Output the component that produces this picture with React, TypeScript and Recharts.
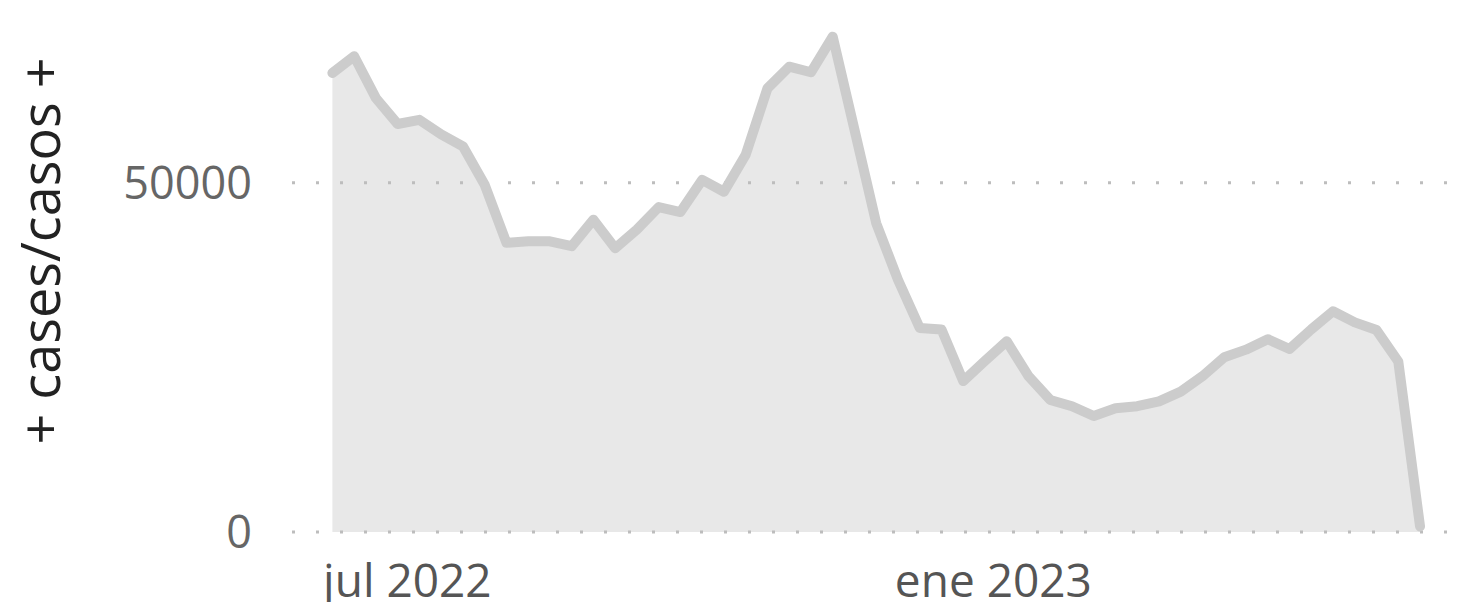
import { AreaChart, Area, XAxis, YAxis, CartesianGrid } from 'recharts';

// weekly reports, Monday of each week
const weeks = [
  '2022-07-04', '2022-07-11', '2022-07-18', '2022-07-25', '2022-08-01', '2022-08-08',
  '2022-08-15', '2022-08-22', '2022-08-29', '2022-09-05', '2022-09-12', '2022-09-19',
  '2022-09-26', '2022-10-03', '2022-10-10', '2022-10-17', '2022-10-24', '2022-10-31',
  '2022-11-07', '2022-11-14', '2022-11-21', '2022-11-28', '2022-12-05', '2022-12-12',
  '2022-12-19', '2022-12-26', '2023-01-02', '2023-01-09', '2023-01-16', '2023-01-23',
  '2023-01-30', '2023-02-06', '2023-02-13', '2023-02-20', '2023-02-27', '2023-03-06',
  '2023-03-13', '2023-03-20', '2023-03-27', '2023-04-03', '2023-04-10', '2023-04-17',
  '2023-04-24', '2023-05-01', '2023-05-08', '2023-05-15', '2023-05-22', '2023-05-29',
  '2023-06-05', '2023-06-12', '2023-06-19',
];

const cases = [
  65700, 68100, 62100, 58400, 59000, 56900, 55200, 49700, 41400, 41600,
  41600, 40900, 44700, 40600, 43300, 46500, 45800, 50400, 48700, 54000,
  63500, 66600, 65800, 70900, 57600, 44200, 36100, 29200, 29000, 21600,
  24500, 27300, 22300, 18900, 18000, 16600, 17700, 18000, 18700, 20100,
  22300, 25000, 26100, 27600, 26200, 29000, 31600, 30000, 28900, 24400,
  800,
];

const yTicks = [0, 50000];
const xTicks = ['2022-07-01', '2023-01-01'];
const xDomain = ['2022-06-21', '2023-06-28'];
const monthsEs = ['ene', 'feb', 'mar', 'abr', 'may', 'jun', 'jul', 'ago', 'sep', 'oct', 'nov', 'dic'];
const yLabel = '+ cases/casos +';

const toTime = (d: string) => new Date(d + 'T00:00:00Z').getTime();

const data = weeks.map((w, i) => ({ t: toTime(w), cases: cases[i] }));

function DateTick(props: any) {
  const { x, y, payload } = props;
  const d = new Date(payload.value);
  const text = `${monthsEs[d.getUTCMonth()]} ${d.getUTCFullYear()}`;
  return (
    <text x={x} y={y} dy="0.71em" textAnchor="start" fill="#555" fontSize={46} fontFamily="Open Sans">
      {text}
    </text>
  );
}

function YLabel() {
  return (
    <text
      x={60}
      y={251}
      transform="rotate(-90 60 251)"
      textAnchor="middle"
      fill="#222"
      fontSize={54}
      fontFamily="Open Sans"
    >
      {yLabel}
    </text>
  );
}

export default function App() {
  return (
    <div style={{ margin: -8, fontFamily: 'Open Sans' }}>
      <AreaChart
        width={1470}
        height={610}
        data={data}
        margin={{ top: 8, right: 22, bottom: 16, left: 8 }}
      >
        <CartesianGrid
          vertical={false}
          horizontalValues={yTicks}
          stroke="#bdbdbd"
          strokeWidth={3}
          strokeDasharray="3 21"
        />
        <XAxis
          dataKey="t"
          type="number"
          domain={xDomain.map(toTime)}
          ticks={xTicks.map(toTime)}
          tick={<DateTick />}
          axisLine={false}
          tickLine={false}
          tickSize={0}
          tickMargin={32}
          height={62}
        />
        <YAxis
          domain={[0, 75000]}
          ticks={yTicks}
          axisLine={false}
          tickLine={false}
          tickSize={0}
          tickMargin={40}
          width={284}
          tick={{ fontSize: 45, fill: '#666', fontFamily: 'Open Sans' }}
          label={() => <YLabel />}
        />
        <Area
          type="linear"
          dataKey="cases"
          stroke="#cccccc"
          strokeWidth={10}
          strokeLinejoin="round"
          strokeLinecap="round"
          fill="#bdbdbd"
          fillOpacity={0.35}
          dot={false}
          activeDot={false}
          isAnimationActive={false}
        />
      </AreaChart>
    </div>
  );
}
